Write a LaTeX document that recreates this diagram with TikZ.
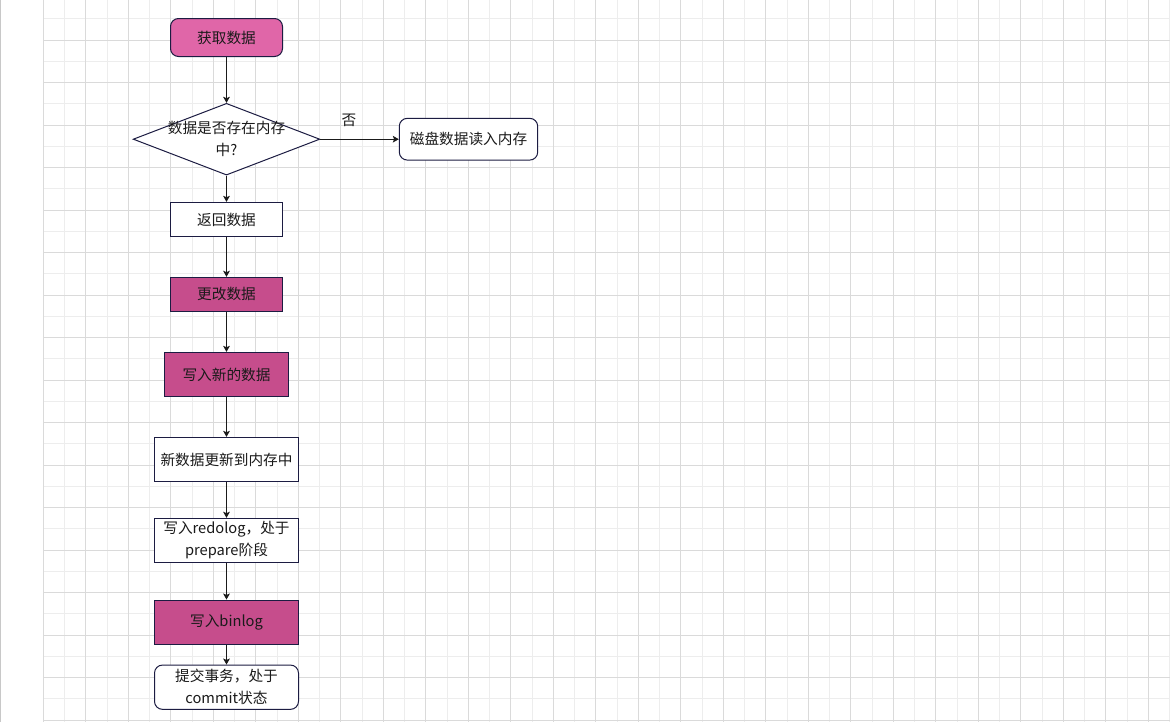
\documentclass[tikz,border=0pt]{standalone}
\usepackage{fontspec}
\setmainfont{Noto Sans CJK SC}
\usetikzlibrary{arrows.meta,shapes.geometric}

\definecolor{gridmajor}{RGB}{218,218,218}
\definecolor{gridminor}{RGB}{237,237,237}
\definecolor{edgegray}{RGB}{200,200,200}
\definecolor{nodeline}{RGB}{28,28,66}
\definecolor{pinklight}{RGB}{224,102,168}
\definecolor{pinkdark}{RGB}{198,77,140}
\definecolor{inktext}{RGB}{26,26,26}

\tikzset{
  box/.style={draw=nodeline, line width=0.75pt, text=inktext, inner sep=0pt, align=center},
  roundbox/.style={box, rounded corners=6pt},
  decision/.style={diamond, draw=nodeline, line width=0.75pt, fill=white, inner sep=0pt},
  flow/.style={-{Stealth[length=4.5pt,width=5pt,inset=1pt]}, line width=0.9pt, draw=inktext},
}

\begin{document}
\begin{tikzpicture}[x=0.75pt, y=-0.75pt, font=\fontsize{11}{16.5}\selectfont]
\useasboundingbox [fill=white] (0,0) rectangle (1170,722);

% grid
\foreach \k in {0,...,26}
  \draw [gridminor, line width=0.75pt] ({64.55+42.5*\k},0) -- ({64.55+42.5*\k},722);
\foreach \k in {0,...,16}
  \draw [gridminor, line width=0.75pt] (43.3,{18.75+42.5*\k}) -- (1170,{18.75+42.5*\k});
\foreach \k in {0,...,26}
  \draw [gridmajor, line width=0.75pt] ({43.3+42.5*\k},0) -- ({43.3+42.5*\k},722);
\foreach \k in {0,...,16}
  \draw [gridmajor, line width=0.75pt] (43.3,{40+42.5*\k}) -- (1170,{40+42.5*\k});
\draw [edgegray, line width=0.75pt] (0.5,0) -- (0.5,722);

\node (fetch) at (226.5,37.5) [roundbox, fill=pinklight, minimum width=84pt, minimum height=28.5pt]{获取数据};

\node (check) at (226.5,139.2) [decision, minimum width=140pt, minimum height=53.8pt]{};
\node (check-text) at (check.center) [text=inktext, align=center]{数据是否存在内存\\中?};

\node (disk) at (468.5,139.2) [roundbox, fill=white, minimum width=103.8pt, minimum height=31.3pt]{磁盘数据读入内存};
\node (no) at (349,120) [text=inktext]{否};

\node (ret) at (226.5,219.5) [box, fill=white, minimum width=83.8pt, minimum height=25.7pt]{返回数据};

\node (modify) at (226.5,294.3) [box, fill=pinkdark, minimum width=84pt, minimum height=25.5pt]{更改数据};

\node (writenew) at (226.5,374.5) [box, fill=pinkdark, minimum width=92.3pt, minimum height=33.2pt]{写入新的数据};

\node (memupd) at (226.5,459.5) [box, fill=white, minimum width=108pt, minimum height=33.2pt]{新数据更新到内存中};

\node (redo) at (226.5,540.3) [box, fill=white, minimum width=108pt, minimum height=33pt]{写入redolog，处于\\prepare阶段};

\node (binlog) at (226.5,622.2) [box, fill=pinkdark, minimum width=108pt, minimum height=33.2pt]{写入binlog};

\node (commit) at (226.5,687.2) [roundbox, fill=white, minimum width=108pt, minimum height=33.2pt]{提交事务，处于\\commit状态};

\draw [flow] (fetch) -- (check);
\draw [flow] (check) -- (disk);
\draw [flow] (check) -- (ret);
\draw [flow] (ret) -- (modify);
\draw [flow] (modify) -- (writenew);
\draw [flow] (writenew) -- (memupd);
\draw [flow] (memupd) -- (redo);
\draw [flow] (redo) -- (binlog);
\draw [flow] (binlog) -- (commit);

\end{tikzpicture}
\end{document}
